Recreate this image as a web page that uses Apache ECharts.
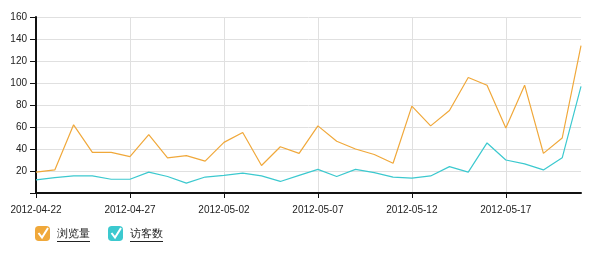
<!DOCTYPE html>
<html><head><meta charset="utf-8">
<script src="https://cdn.jsdelivr.net/npm/echarts@6/dist/echarts.min.js"></script>
<style>html,body{margin:0;padding:0;background:#fff}#c{width:590px;height:261px}</style>
</head><body><div id="c"></div>
<script>
const dates = ['2012-04-22','2012-04-23','2012-04-24','2012-04-25','2012-04-26','2012-04-27','2012-04-28','2012-04-29','2012-04-30','2012-05-01','2012-05-02','2012-05-03','2012-05-04','2012-05-05','2012-05-06','2012-05-07','2012-05-08','2012-05-09','2012-05-10','2012-05-11','2012-05-12','2012-05-13','2012-05-14','2012-05-15','2012-05-16','2012-05-17','2012-05-18','2012-05-19','2012-05-20','2012-05-21'];
const pageViews = [19,21,62,37,37,33,53,32,34,29,46,55,25,42,36,61,47,40,35,27,79,61,75,105,98,59,98,36,50,134];
const visitors = [12,14,15.5,15.5,12.5,12.5,19,15,9,14.5,16,18,15.5,10.5,16,21.5,15,21.5,18.5,14.5,13.5,15.5,24,19,45.5,30,26.5,21,32,97];
const seriesNames = ['浏览量','访客数'];
const colors = ['#F0A83A','#3CC9CF'];

const chart = echarts.init(document.getElementById('c'));
const font = 'Liberation Sans, Arial, sans-serif';
chart.setOption({
  animation:false,
  textStyle:{fontFamily:font},
  color: colors,
  grid:{left:36,right:9,top:17,bottom:68},
  legend:{
    left:35, top:226, padding:0, itemWidth:15, itemHeight:15, itemGap:18,
    icon:'roundRect',
    textStyle:{fontSize:11,color:'#222',fontFamily:font,padding:[3,0,0,2]},
    data:seriesNames
  },
  xAxis:{
    type:'category', boundaryGap:false, data:dates,
    axisLine:{lineStyle:{color:'#111',width:2}},
    axisTick:{show:true,interval:4,length:5,lineStyle:{color:'#111'}},
    axisLabel:{interval:4,fontSize:10,color:'#222',margin:12},
    splitLine:{show:true,interval:4,lineStyle:{color:'#e0e0e0',width:1}}
  },
  yAxis:{
    type:'value', min:0, max:160, interval:20,
    axisLine:{show:true,lineStyle:{color:'#111',width:2}},
    axisTick:{show:true,length:6,lineStyle:{color:'#111'}},
    axisLabel:{fontSize:10,color:'#222',margin:9,formatter:v=>v===0?'':v},
    splitLine:{lineStyle:{color:'#e0e0e0',width:1}}
  },
  series:[
    {name:seriesNames[0],type:'line',data:pageViews,symbol:'none',lineStyle:{width:1.2,color:colors[0]},itemStyle:{color:colors[0]}},
    {name:seriesNames[1],type:'line',data:visitors,symbol:'none',lineStyle:{width:1.2,color:colors[1]},itemStyle:{color:colors[1]}}
  ],
  graphic:[
    {type:'polyline',silent:true,z:100,shape:{points:[[38.5,233],[42,237.5],[48,228]]},style:{stroke:'#fff',lineWidth:2,fill:null}},
    {type:'polyline',silent:true,z:100,shape:{points:[[111.5,233],[115,237.5],[121,228]]},style:{stroke:'#fff',lineWidth:2,fill:null}},
    {type:'line',silent:true,z:100,shape:{x1:57,y1:241.5,x2:90,y2:241.5},style:{stroke:'#222',lineWidth:1}},
    {type:'line',silent:true,z:100,shape:{x1:130,y1:241.5,x2:163,y2:241.5},style:{stroke:'#222',lineWidth:1}}
  ]
});
</script></body></html>
